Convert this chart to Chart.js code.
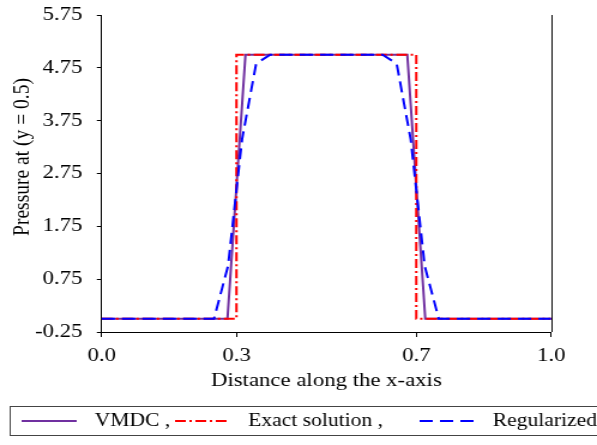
<!DOCTYPE html>
<html>
<head>
<meta charset="utf-8">
<script src="https://cdn.jsdelivr.net/npm/chart.js@4.4.0/dist/chart.umd.min.js"></script>
<style>
  html, body { margin: 0; padding: 0; background: #fff; overflow: hidden; }
  #wrap { width: 498px; height: 445px; transform: scaleX(1.1988); transform-origin: 0 0; }
</style>
</head>
<body>
<div id="wrap"><canvas id="pressureChart" width="498" height="445"></canvas></div>
<script>
// x positions and pressure values for each curve
const xVmdc = [0, 0.28, 0.32, 0.68, 0.72, 1.0];
const pVmdc = [0, 0, 5, 5, 0, 0];

const xExact = [0, 0.3, 0.3, 0.7, 0.7, 1.0];
const pExact = [0, 0, 5, 5, 0, 0];

const xReg = [0, 0.25, 0.28125, 0.3125, 0.34375, 0.375, 0.625, 0.65625, 0.6875, 0.71875, 0.75, 1.0];
const pReg = [0, 0, 1.0, 3.4, 4.83, 5.0, 5.0, 4.83, 3.4, 1.0, 0, 0];

const xTicks = [0.0, 0.3, 0.7, 1.0];
const yTicks = [-0.25, 0.75, 1.75, 2.75, 3.75, 4.75, 5.75];

const seriesNames = ["VMDC ,", "Exact solution ,", "Regularized"];
const xTitle = "Distance along the x-axis";
const yTitle = "Pressure at (y = 0.5)";

const FONT = "'Liberation Serif', 'Times New Roman', serif";

// where each legend entry starts along the row
const legendStarts = [18, 146, 350];

function toPoints(xs, ys) {
  return xs.map((x, i) => ({ x: x, y: ys[i] }));
}

// axis titles, right frame line and the boxed legend row
const frameAndLegend = {
  id: "frameAndLegend",
  afterDraw(chart) {
    const ctx = chart.ctx;
    const area = chart.chartArea;

    ctx.save();
    ctx.strokeStyle = "#000";
    ctx.lineWidth = 1;
    ctx.beginPath();
    ctx.moveTo(Math.round(area.right) + 0.5, area.top);
    ctx.lineTo(Math.round(area.right) + 0.5, area.bottom);
    ctx.stroke();

    ctx.fillStyle = "#000";
    ctx.textAlign = "center";
    ctx.textBaseline = "middle";
    ctx.font = "19px " + FONT;
    ctx.fillText(xTitle, (area.left + area.right) / 2, 381);

    ctx.save();
    ctx.translate(19, 157);
    ctx.rotate(-Math.PI / 2);
    ctx.font = "19.5px " + FONT;
    ctx.fillText(yTitle, 0, 0);
    ctx.restore();

    // legend frame
    ctx.strokeStyle = "#444";
    ctx.strokeRect(8.5, 406.5, 500, 29);

    ctx.font = "18px " + FONT;
    ctx.textAlign = "left";
    const rowY = 421;
    chart.data.datasets.forEach((ds, i) => {
      const x = legendStarts[i];
      ctx.strokeStyle = ds.borderColor;
      ctx.lineWidth = ds.borderWidth;
      ctx.setLineDash(ds.borderDash || []);
      ctx.beginPath();
      ctx.moveTo(x, rowY);
      ctx.lineTo(x + 46, rowY);
      ctx.stroke();
      ctx.setLineDash([]);
      ctx.fillText(ds.label, x + 61, rowY);
    });
    ctx.restore();
  },
};

const ctx = document.getElementById("pressureChart").getContext("2d");

new Chart(ctx, {
  type: "line",
  data: {
    datasets: [
      {
        label: seriesNames[0],
        data: toPoints(xVmdc, pVmdc),
        borderColor: "#7030A0",
        borderWidth: 2,
        pointRadius: 0,
        tension: 0,
        order: 2,
      },
      {
        label: seriesNames[1],
        data: toPoints(xExact, pExact),
        borderColor: "#FF0000",
        borderWidth: 2,
        borderDash: [9, 3, 2, 3],
        pointRadius: 0,
        tension: 0,
        order: 1,
      },
      {
        label: seriesNames[2],
        data: toPoints(xReg, pReg),
        borderColor: "#0000FF",
        borderWidth: 2,
        borderDash: [11, 6],
        pointRadius: 0,
        tension: 0,
        order: 0,
      },
    ],
  },
  options: {
    responsive: false,
    animation: false,
    layout: {
      padding: { top: 15, right: 38.25, bottom: 0, left: 0 },
    },
    plugins: {
      legend: { display: false },
      tooltip: { enabled: false },
    },
    scales: {
      x: {
        type: "linear",
        min: 0,
        max: 1,
        afterBuildTicks: (scale) => {
          scale.ticks = xTicks.map((v) => ({ value: v }));
        },
        afterFit: (scale) => {
          scale.height = 113;
          scale.paddingLeft = 0;
          scale.paddingRight = 0;
        },
        ticks: {
          color: "#000",
          font: { family: FONT, size: 19 },
          padding: 8,
          maxRotation: 0,
          callback: (v) => Number(v).toFixed(1),
        },
        grid: {
          drawOnChartArea: false,
          drawTicks: true,
          tickLength: 5,
          color: "#000",
        },
        border: { display: true, color: "#000", width: 1 },
      },
      y: {
        type: "linear",
        min: -0.25,
        max: 5.75,
        afterBuildTicks: (scale) => {
          scale.ticks = yTicks.map((v) => ({ value: v }));
        },
        afterFit: (scale) => {
          scale.width = 84.75;
          scale.paddingTop = 0;
          scale.paddingBottom = 0;
        },
        ticks: {
          color: "#000",
          font: { family: FONT, size: 19 },
          padding: 12,
          callback: (v) => Number(v).toFixed(2),
        },
        grid: {
          drawOnChartArea: false,
          drawTicks: true,
          tickLength: 4,
          color: "#000",
        },
        border: { display: true, color: "#000", width: 1 },
      },
    },
  },
  plugins: [frameAndLegend],
});
</script>
</body>
</html>
